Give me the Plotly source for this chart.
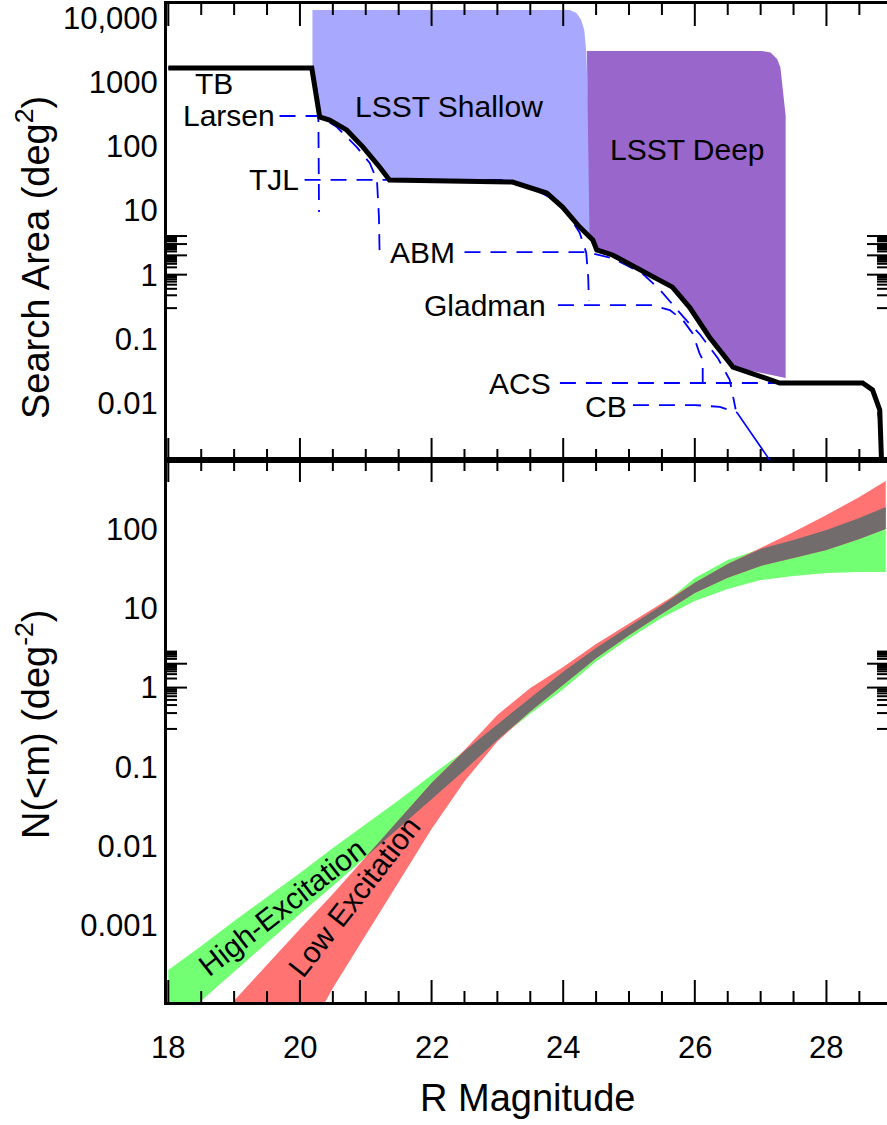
import numpy as np
import plotly.graph_objects as go

# ---------------- top panel: search area vs depth ----------------
env_mag = [18.0, 20.18, 20.30, 20.45, 20.71, 20.955, 21.21, 21.32, 21.36, 23.23, 23.75, 23.99,
           24.25, 24.45, 24.51, 24.75, 25.27, 25.66, 25.92, 26.22, 26.58, 27.29, 28.55, 28.70,
           28.81, 28.84]
env_area = [1660, 1660, 287, 257, 180, 98, 47.6, 32, 29.9, 27.8, 18.7, 11.3,
            5.5, 3.47, 2.43, 2.03, 1.06, 0.64, 0.31, 0.107, 0.0364, 0.0205, 0.0205, 0.016,
            0.0078, 0.001]

tb_mag = [18.0, 20.18, 20.25, 20.28, 20.29]
tb_area = [1660, 1660, 800, 300, 9.5]
larsen_mag = [19.69, 20.30, 20.56, 20.86, 21.06, 21.17, 21.20, 21.21]
larsen_area = [297, 297, 200, 98, 55, 30, 8, 2.2]
tjl_mag = [20.07, 23.10, 23.50, 23.80, 24.05, 24.25, 24.35, 24.38, 24.39]
tjl_area = [30, 30, 23, 16, 9.5, 4.5, 2.2, 0.9, 0.4]
abm_mag = [22.50, 24.35, 24.75, 25.20, 25.47, 25.88, 26.07, 26.35, 26.53, 26.62]
abm_area = [2.25, 2.25, 1.8, 1.05, 0.58, 0.19, 0.12, 0.05, 0.023, 0.008]
gladman_mag = [23.92, 25.35, 25.62, 25.82, 25.97, 26.07, 26.12, 26.12]
gladman_area = [0.336, 0.336, 0.28, 0.195, 0.12, 0.06, 0.047, 0.018]
acs_mag = [23.95, 28.55, 28.68, 28.76, 28.82, 28.84]
acs_area = [0.0205, 0.0205, 0.017, 0.01, 0.004, 0.001]
cb_mag = [25.06, 26.00, 26.38, 26.64]
cb_area = [0.0093, 0.0093, 0.0087, 0.0071]
cb_tail_mag = [26.64, 27.16]
cb_tail_area = [0.0071, 0.0012]

shallow_mag = [20.19, 24.10, 24.20, 24.27, 24.32, 24.35, 24.45, 24.25, 23.99, 23.75, 23.23,
               21.36, 21.32, 21.21, 20.955, 20.71, 20.45, 20.30, 20.19]
shallow_area = [13300, 13300, 12000, 9500, 6500, 3000, 3.47, 5.5, 11.3, 18.7, 27.8,
                29.9, 32, 47.6, 98, 180, 257, 287, 1660]
deep_mag = [24.36, 27.02, 27.15, 27.25, 27.30, 27.38, 27.38, 26.58, 26.22, 25.92, 25.66,
            25.27, 24.75, 24.51, 24.40]
deep_area = [3060, 3060, 2900, 2300, 1700, 300, 0.0245, 0.0364, 0.107, 0.31, 0.64,
             1.06, 2.03, 2.43, 4.0]

survey_labels = ["TB", "Larsen", "TJL", "ABM", "Gladman", "ACS", "CB"]
label_mag = [18.37, 19.65, 20.02, 22.38, 23.77, 23.84, 25.00]
label_area = [950, 297, 30, 2.25, 0.336, 0.0205, 0.0088]

# ---------------- bottom panel: cumulative number ----------------
mags = [18.0, 18.5, 19.0, 19.5, 20.0, 20.5, 21.0, 21.5, 22.0, 22.5, 23.0, 23.5,
        24.0, 24.5, 25.0, 25.5, 26.0, 26.5, 27.0, 27.5, 28.0, 28.5, 28.9]
high_upper = [2.75e-4, 5.5e-4, 1.14e-3, 2.29e-3, 4.6e-3, 9.5e-3, 0.019, 0.038, 0.079, 0.159,
              0.339, 0.741, 1.585, 3.16, 5.89, 10.96, 24.1, 40.6, 56, 72.6, 97, 138, 189]
high_lower = [4.95e-5, 1.12e-4, 2.6e-4, 6.0e-4, 1.4e-3, 3.15e-3, 7.3e-3, 0.017, 0.039, 0.091,
              0.219, 0.468, 0.955, 2.14, 4.17, 7.59, 12.4, 17.5, 22.7, 25.5, 27.9, 28.7, 28.7]
low_upper = [1.4e-5, 4.0e-5, 1.12e-4, 3.2e-4, 9.0e-4, 2.5e-3, 7.3e-3, 0.0214, 0.0627, 0.163,
             0.452, 0.99, 1.82, 3.55, 6.46, 11.75, 21, 36.3, 57.5, 91.6, 150, 254, 404]
low_lower = [1e-7, 5e-7, 2.5e-6, 1e-5, 2.8e-5, 1.63e-4, 7.6e-4, 3.5e-3, 0.0165, 0.0658,
             0.209, 0.501, 1.096, 2.34, 4.57, 8.51, 15.6, 24.2, 34.2, 43.2, 54.3, 74.8, 100]

x_ticks = [18, 20, 22, 24, 26, 28]
x_minor = [v / 2 for v in range(36, 58) if v % 4]
top_ticks = [0.01, 0.1, 1, 10, 100, 1000, 10000]
top_ticktext = ["0.01", "0.1", "1", "10", "100", "1000", "10,000"]
bot_ticks = [0.001, 0.01, 0.1, 1, 10, 100]
bot_ticktext = ["0.001", "0.01", "0.1", "1", "10", "100"]

# ---------------- colours ----------------
C_SHALLOW = "#A8A8FF"
C_DEEP = "#9966CC"
C_GREEN = "#73FF73"
C_RED = "#FF7373"
C_GRAY = "#726C6C"
FONT = "Liberation Sans, Arial, Helvetica, sans-serif"
LBL = 30   # in-plot label size
TCK = 31   # tick label size
TTL = 38   # axis title size

# ---------------- geometry ----------------
T, B_MARGIN, L_MARGIN = 4, 123, 167
PW = 887 - L_MARGIN
PH = 1125 - T - B_MARGIN
def py(p):                         # page pixel row -> paper y
    return 1 - (p - T) / PH
XR = [17.98, 28.92]
YR_BOT = [-3.965, 2.870]
YR_TOP = [-2.888, 4.218]
bot_dom = [0, py(460)]
top_dom = [py(460), 1]

fig = go.Figure()

def band(x, up, lo, color, xa="x", ya="y"):
    fig.add_trace(go.Scatter(x=list(x) + list(x)[::-1], y=list(up) + list(lo)[::-1],
                             fill="toself", fillcolor=color, mode="lines",
                             line=dict(width=0, color=color), hoverinfo="skip",
                             showlegend=False, xaxis=xa, yaxis=ya))

# top panel fills
fig.add_trace(go.Scatter(x=shallow_mag, y=shallow_area, fill="toself", fillcolor=C_SHALLOW,
                         mode="lines", line=dict(width=0), showlegend=False,
                         xaxis="x2", yaxis="y2"))
fig.add_trace(go.Scatter(x=deep_mag, y=deep_area, fill="toself", fillcolor=C_DEEP,
                         mode="lines", line=dict(width=0), showlegend=False,
                         xaxis="x2", yaxis="y2"))

dash = "16px,10px"
for xm, ya in [(tb_mag, tb_area), (larsen_mag, larsen_area), (tjl_mag, tjl_area),
               (abm_mag, abm_area), (gladman_mag, gladman_area), (acs_mag, acs_area),
               (cb_mag, cb_area)]:
    fig.add_trace(go.Scatter(x=xm, y=ya, mode="lines",
                             line=dict(color="#0000FF", width=1.8, dash=dash),
                             showlegend=False, xaxis="x2", yaxis="y2"))
fig.add_trace(go.Scatter(x=cb_tail_mag, y=cb_tail_area, mode="lines",
                         line=dict(color="#0000FF", width=1.6), showlegend=False,
                         xaxis="x2", yaxis="y2"))
fig.add_trace(go.Scatter(x=env_mag, y=env_area, mode="lines",
                         line=dict(color="black", width=5), showlegend=False,
                         xaxis="x2", yaxis="y2"))

# bottom panel bands
band(mags, high_upper, high_lower, C_GREEN)
band(mags, low_upper, low_lower, C_RED)
gu = np.minimum(high_upper, low_upper)
gl = np.maximum(high_lower, low_lower)
ok = gu >= gl
gm = [m for m, k in zip(mags, ok) if k]
band(gm, gu[ok], gl[ok], C_GRAY)

def minor_vals(lo, hi):
    return [k * 10.0 ** e for e in range(lo, hi) for k in range(2, 10)]

# inward tick marks on all four sides of each panel, as layout shapes
shapes = []
TICK_LINE = dict(color="black", width=2)
def add_tick_shapes(xr, yr_name, yr, dom, yticks, yminor):
    ph = (dom[1] - dom[0]) * PH           # panel height in px
    for vals, ln in [(x_ticks, 22), (x_minor, 11)]:
        f = ln / ph
        for v in vals:
            for y0, y1 in [(0, f), (1 - f, 1)]:
                shapes.append(dict(type="line", xref=xr, yref=yr_name + " domain",
                                   x0=v, x1=v, y0=y0, y1=y1, line=TICK_LINE,
                                   layer="above"))
    for vals, ln in [(yticks, 20), (yminor, 10)]:
        f = ln / PW
        for v in vals:
            lv = float(np.log10(v))
            if yr[0] <= lv <= yr[1]:
                for x0, x1 in [(0, f), (1 - f, 1)]:
                    shapes.append(dict(type="line", xref=xr + " domain", yref=yr_name,
                                       x0=x0, x1=x1, y0=lv, y1=lv, line=TICK_LINE,
                                       layer="above"))

add_tick_shapes("x", "y", YR_BOT, bot_dom, bot_ticks, minor_vals(-4, 3))
add_tick_shapes("x2", "y2", YR_TOP, top_dom, top_ticks, minor_vals(-3, 5))

# ---------------- annotations ----------------
ann = []
for i, (t, m, a) in enumerate(zip(survey_labels, label_mag, label_area)):
    ann.append(dict(x=m, y=np.log10(a), xref="x2", yref="y2", text=t, showarrow=False,
                    xanchor="left" if i == 0 else "right", yanchor="middle",
                    font=dict(size=LBL, color="black", family=FONT)))
ann.append(dict(x=22.26, y=2.613, xref="x2", yref="y2", text="LSST Shallow", showarrow=False,
                xanchor="center", yanchor="middle",
                font=dict(size=LBL, color="black", family=FONT)))
ann.append(dict(x=25.89, y=1.943, xref="x2", yref="y2", text="LSST Deep", showarrow=False,
                xanchor="center", yanchor="middle",
                font=dict(size=LBL, color="black", family=FONT)))
ann.append(dict(x=19.72, y=np.log10(1.71e-3), xref="x", yref="y", text="High-Excitation",
                showarrow=False, textangle=-38, xanchor="center", yanchor="middle",
                font=dict(size=LBL, color="black", family=FONT)))
ann.append(dict(x=20.83, y=np.log10(2.29e-3), xref="x", yref="y", text="Low Excitation",
                showarrow=False, textangle=-52, xanchor="center", yanchor="middle",
                font=dict(size=LBL, color="black", family=FONT)))

# x tick labels, placed below the lower panel
for v in x_ticks:
    ann.append(dict(x=v, y=py(1047), xref="x", yref="paper", text=str(v), showarrow=False,
                    xanchor="center", yanchor="middle",
                    font=dict(size=TCK, color="black", family=FONT)))

ann.append(dict(x=(33 - L_MARGIN) / PW, y=py(258), xref="paper", yref="paper",
                text="Search Area (deg<sup>2</sup>)", textangle=-90, showarrow=False,
                xanchor="center", yanchor="middle",
                font=dict(size=TTL, color="black", family=FONT)))
ann.append(dict(x=(33 - L_MARGIN) / PW, y=py(724), xref="paper", yref="paper",
                text="N(&lt;m) (deg<sup>-2</sup>)", textangle=-90, showarrow=False,
                xanchor="center", yanchor="middle",
                font=dict(size=TTL, color="black", family=FONT)))
ann.append(dict(x=0.5, y=py(1098), xref="paper", yref="paper",
                text="R Magnitude", showarrow=False, xanchor="center", yanchor="middle",
                font=dict(size=TTL, color="black", family=FONT)))

xcommon = dict(range=XR, tickmode="array", tickvals=x_ticks, ticks="",
               showline=True, linewidth=3, linecolor="black", mirror=True,
               showgrid=False, zeroline=False, showticklabels=False, automargin=False)
ycommon = dict(type="log", tickmode="array", ticks="", showline=True, linewidth=3,
               linecolor="black", mirror=True, showgrid=False, zeroline=False,
               automargin=False, tickfont=dict(size=TCK, color="black", family=FONT))

fig.update_layout(
    template="none",
    width=887, height=1125, autosize=False,
    margin=dict(l=L_MARGIN, r=0, t=T, b=B_MARGIN),
    paper_bgcolor="white", plot_bgcolor="white",
    font=dict(family=FONT, color="black"),
    showlegend=False,
    xaxis=dict(**xcommon, anchor="y", domain=[0, 1]),
    xaxis2=dict(**xcommon, anchor="y2", domain=[0, 1]),
    yaxis=dict(**ycommon, anchor="x", domain=bot_dom, range=YR_BOT,
               tickvals=bot_ticks, ticktext=bot_ticktext),
    yaxis2=dict(**ycommon, anchor="x2", domain=top_dom, range=YR_TOP,
                tickvals=top_ticks, ticktext=top_ticktext),
    annotations=ann,
    shapes=shapes,
)

fig.write_html("out.html", config={"responsive": False, "staticPlot": True})
